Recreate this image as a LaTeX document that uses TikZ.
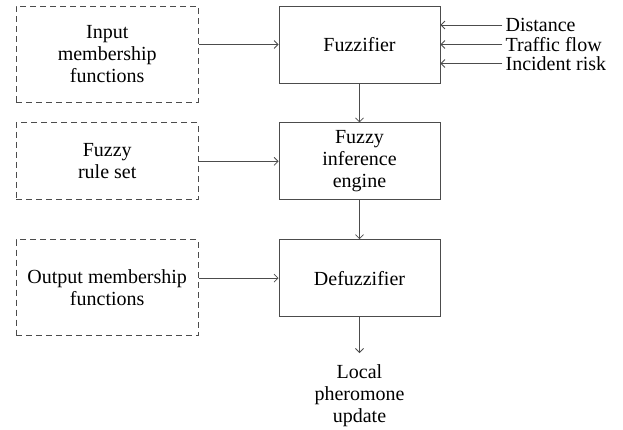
\documentclass[tikz,border=0pt]{standalone}
\usepackage{fontspec}
\setmainfont{Liberation Serif}
\usetikzlibrary{positioning, arrows.meta}

\begin{document}
\begin{tikzpicture}[
  x=1pt, y=1pt,
  node distance=39pt and 80pt,
  every node/.style={align=center, inner sep=3pt, font=\fontsize{20}{22}\selectfont},
  box/.style={draw=black!70, line width=0.8pt, minimum width=161pt, minimum height=77pt},
  dbox/.style={draw=black!70, line width=0.8pt, dash pattern=on 6pt off 4pt, minimum width=182pt, minimum height=96pt},
  arrow/.style={-{Straight Barb[length=4pt,width=8pt]}, draw=black!70, line width=0.8pt}
  ]
\useasboundingbox (0,0) rectangle (623,-429);

\node[box] (fuzz) at (359.5,-44.5) {Fuzzifier};
\node[box, below=of fuzz] (engine) {Fuzzy\\inference\\engine};
\node[box, below=of engine] (defuzz) {Defuzzifier};
\node[below=36pt of defuzz, inner ysep=11pt] (update) {Local\\pheromone\\update};

\node[dbox, left=80pt of fuzz.north west, anchor=north east] (infun) {Input\\membership\\functions};
\node[dbox, left=of engine, minimum height=77pt] (rules) {Fuzzy\\rule set};
\node[dbox, left=80pt of defuzz.north west, anchor=north east] (outfun) {Output membership\\functions};

\node[right=62pt of fuzz.east, yshift=19.5pt] (dist) {Distance};
\node[right=62pt of fuzz.east] (traffic) {Traffic flow};
\node[right=62pt of fuzz.east, yshift=-19pt] (risk) {Incident risk};

\draw[arrow] (infun.east |- fuzz.west) -- (fuzz.west);
\draw[arrow] (rules) -- (engine);
\draw[arrow] (outfun.east |- defuzz.west) -- (defuzz.west);
\draw[arrow] (dist.west) -- (dist.west -| fuzz.east);
\draw[arrow] (traffic.west) -- (fuzz.east);
\draw[arrow] (risk.west) -- (risk.west -| fuzz.east);
\draw[arrow] (fuzz) -- (engine);
\draw[arrow] (engine) -- (defuzz);
\draw[arrow] (defuzz) -- (update);
\end{tikzpicture}
\end{document}
